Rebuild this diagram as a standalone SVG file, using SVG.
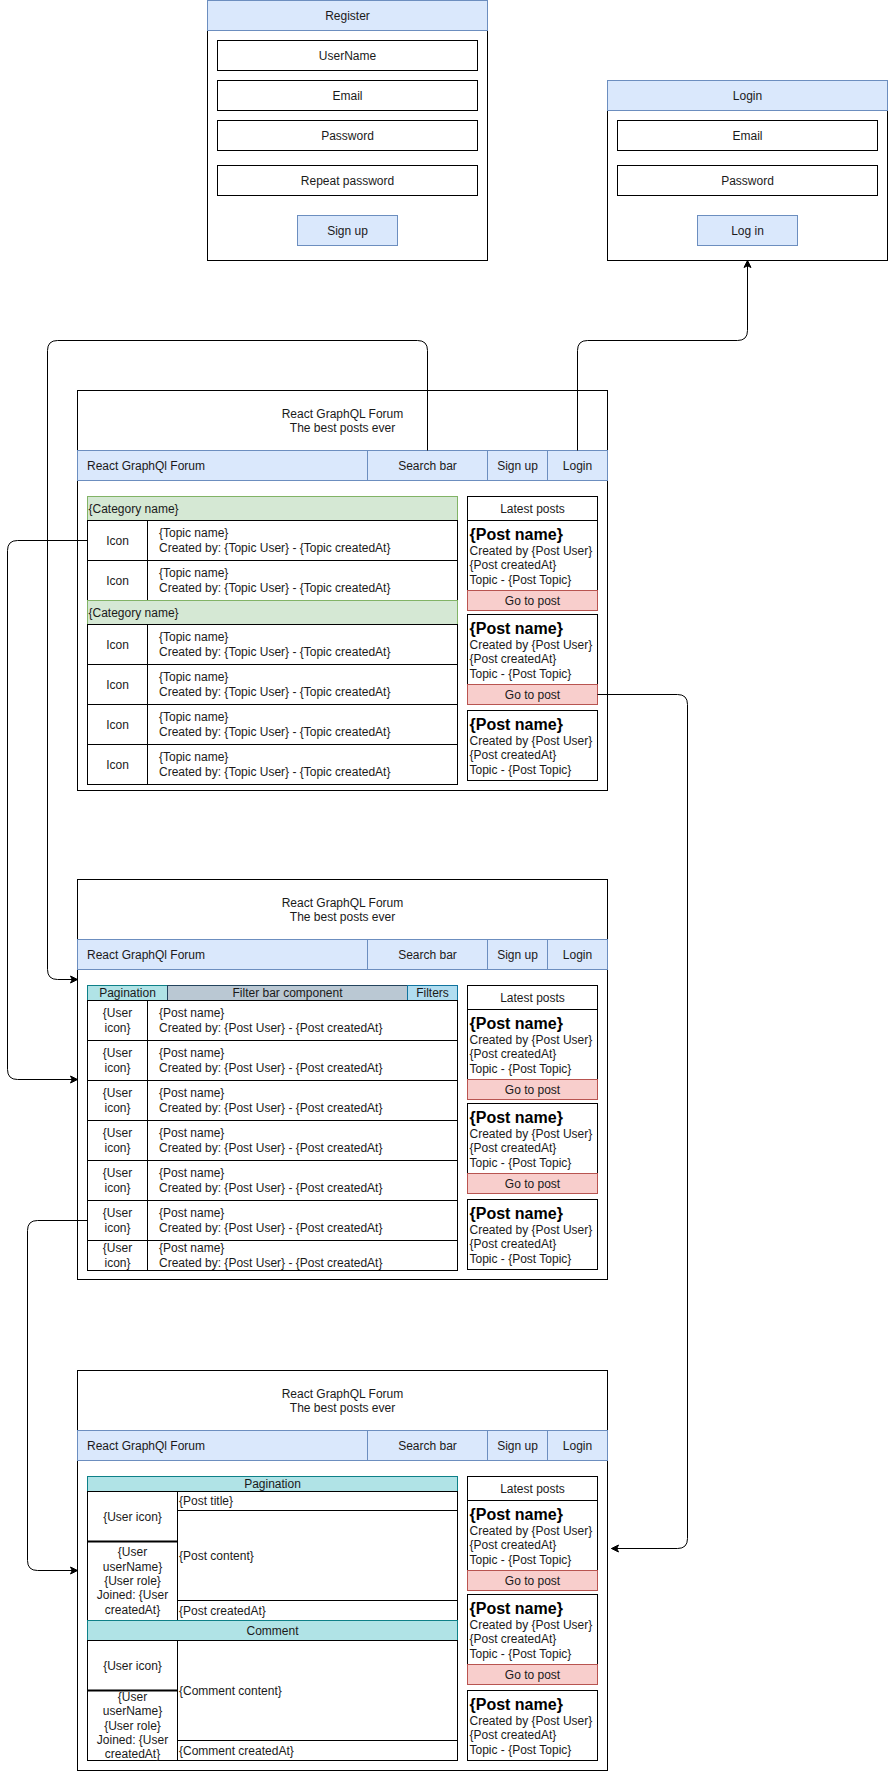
<svg xmlns="http://www.w3.org/2000/svg" width="888" height="1771" viewBox="0 0 888 1771">
<defs>
<style>
rect{stroke-width:1}
.box{fill:#fff;stroke:#000}
.blue{fill:#dae8fc;stroke:#6c8ebf}
.green{fill:#d5e8d4;stroke:#82b366}
.red{fill:#f8cecc;stroke:#b85450}
.teal{fill:#b0e3e6;stroke:#0e8088}
.gray{fill:#bac8d3;stroke:#23445d}
.lblue{fill:#b1ddf0;stroke:#10739e}
text{font-family:"Liberation Sans",Arial,Helvetica,sans-serif;font-size:12px;fill:#1a1a1a}
.c{text-anchor:middle}
.b{font-weight:bold;font-size:16px;fill:#000}
.edge{fill:none;stroke:#000;stroke-width:1}
.thick{stroke:#000;stroke-width:2}
</style>
<marker id="arr" viewBox="-1 -1 9 9" refX="7" refY="3.5" markerWidth="9" markerHeight="9" orient="auto" markerUnits="userSpaceOnUse">
<path d="M0,0 L7,3.5 L0,7 L1.75,3.5 Z" fill="#000" stroke="#000" stroke-width="1"/>
</marker>
</defs>
<rect x="0" y="0" width="888" height="1771" fill="#fff"/>
<g transform="translate(0.5,0.5)">

<g id="register">
<rect class="box" x="207" y="0" width="280" height="260"/>
<rect class="blue" x="207" y="0" width="280" height="30"/>
<text class="c" x="347" y="19">Register</text>
<rect class="box" x="217" y="40" width="260" height="30"/>
<text class="c" x="347" y="59">UserName</text>
<rect class="box" x="217" y="80" width="260" height="30"/>
<text class="c" x="347" y="99">Email</text>
<rect class="box" x="217" y="120" width="260" height="30"/>
<text class="c" x="347" y="139">Password</text>
<rect class="box" x="217" y="165" width="260" height="30"/>
<text class="c" x="347" y="184">Repeat password</text>
<rect class="blue" x="297" y="215" width="100" height="30"/>
<text class="c" x="347" y="234">Sign up</text>
</g>

<g id="login">
<rect class="box" x="607" y="80" width="280" height="180"/>
<rect class="blue" x="607" y="80" width="280" height="30"/>
<text class="c" x="747" y="99">Login</text>
<rect class="box" x="617" y="120" width="260" height="30"/>
<text class="c" x="747" y="139">Email</text>
<rect class="box" x="617" y="165" width="260" height="30"/>
<text class="c" x="747" y="184">Password</text>
<rect class="blue" x="697" y="215" width="100" height="30"/>
<text class="c" x="747" y="234">Log in</text>
</g>

<!-- PAGE 1 -->
<g id="page-home">
<rect class="box" x="77" y="390" width="530" height="400"/>
<text class="c" x="342" y="417">React GraphQL Forum</text>
<text class="c" x="342" y="431.5">The best posts ever</text>
<rect class="blue" x="77" y="450" width="290" height="30"/>
<rect class="blue" x="367" y="450" width="120" height="30"/>
<rect class="blue" x="487" y="450" width="60" height="30"/>
<rect class="blue" x="547" y="450" width="60" height="30"/>
<text x="86.5" y="469">React GraphQl Forum</text>
<text class="c" x="427" y="469">Search bar</text>
<text class="c" x="517" y="469">Sign up</text>
<text class="c" x="577" y="469">Login</text>

<rect class="green" x="87" y="496" width="370" height="24"/>
<text x="88" y="512">{Category name}</text>
<rect class="box" x="87" y="520" width="60" height="40"/><rect class="box" x="147" y="520" width="310" height="40"/>
<text class="c" x="117" y="544">Icon</text><text x="158.5" y="536.8">{Topic name}</text><text x="158.5" y="551.2">Created by: {Topic User} - {Topic createdAt}</text>
<rect class="box" x="87" y="560" width="60" height="40"/><rect class="box" x="147" y="560" width="310" height="40"/>
<text class="c" x="117" y="584">Icon</text><text x="158.5" y="576.8">{Topic name}</text><text x="158.5" y="591.2">Created by: {Topic User} - {Topic createdAt}</text>
<rect class="green" x="87" y="600" width="370" height="24"/>
<text x="88" y="616">{Category name}</text>
<rect class="box" x="87" y="624" width="60" height="40"/><rect class="box" x="147" y="624" width="310" height="40"/>
<text class="c" x="117" y="648">Icon</text><text x="158.5" y="640.8">{Topic name}</text><text x="158.5" y="655.2">Created by: {Topic User} - {Topic createdAt}</text>
<rect class="box" x="87" y="664" width="60" height="40"/><rect class="box" x="147" y="664" width="310" height="40"/>
<text class="c" x="117" y="688">Icon</text><text x="158.5" y="680.8">{Topic name}</text><text x="158.5" y="695.2">Created by: {Topic User} - {Topic createdAt}</text>
<rect class="box" x="87" y="704" width="60" height="40"/><rect class="box" x="147" y="704" width="310" height="40"/>
<text class="c" x="117" y="728">Icon</text><text x="158.5" y="720.8">{Topic name}</text><text x="158.5" y="735.2">Created by: {Topic User} - {Topic createdAt}</text>
<rect class="box" x="87" y="744" width="60" height="40"/><rect class="box" x="147" y="744" width="310" height="40"/>
<text class="c" x="117" y="768">Icon</text><text x="158.5" y="760.8">{Topic name}</text><text x="158.5" y="775.2">Created by: {Topic User} - {Topic createdAt}</text>

<rect class="box" x="467" y="496" width="130" height="24"/>
<text class="c" x="532" y="512">Latest posts</text>
<rect class="box" x="467" y="520" width="130" height="70"/>
<text class="b" x="469" y="539">{Post name}</text><text x="469" y="554.3">Created by {Post User}</text><text x="469" y="568.7">{Post createdAt}</text><text x="469" y="583.1">Topic - {Post Topic}</text>
<rect class="red" x="467" y="590" width="130" height="20"/>
<text class="c" x="532" y="604">Go to post</text>
<rect class="box" x="467" y="614" width="130" height="70"/>
<text class="b" x="469" y="633">{Post name}</text><text x="469" y="648.3">Created by {Post User}</text><text x="469" y="662.7">{Post createdAt}</text><text x="469" y="677.1">Topic - {Post Topic}</text>
<rect class="red" x="467" y="684" width="130" height="20"/>
<text class="c" x="532" y="698">Go to post</text>
<rect class="box" x="467" y="710" width="130" height="70"/>
<text class="b" x="469" y="729">{Post name}</text><text x="469" y="744.3">Created by {Post User}</text><text x="469" y="758.7">{Post createdAt}</text><text x="469" y="773.1">Topic - {Post Topic}</text>
</g>

<!-- PAGE 2 -->
<g id="page-topic">
<rect class="box" x="77" y="879" width="530" height="400"/>
<text class="c" x="342" y="906">React GraphQL Forum</text>
<text class="c" x="342" y="920.5">The best posts ever</text>
<rect class="blue" x="77" y="939" width="290" height="30"/>
<rect class="blue" x="367" y="939" width="120" height="30"/>
<rect class="blue" x="487" y="939" width="60" height="30"/>
<rect class="blue" x="547" y="939" width="60" height="30"/>
<text x="86.5" y="958">React GraphQl Forum</text>
<text class="c" x="427" y="958">Search bar</text>
<text class="c" x="517" y="958">Sign up</text>
<text class="c" x="577" y="958">Login</text>

<rect class="teal" x="87" y="985" width="80" height="15"/>
<rect class="gray" x="167" y="985" width="240" height="15"/>
<rect class="lblue" x="407" y="985" width="50" height="15"/>
<text class="c" x="127" y="996.5">Pagination</text>
<text class="c" x="287" y="996.5">Filter bar component</text>
<text class="c" x="432" y="996.5">Filters</text>

<rect class="box" x="87" y="1000" width="60" height="40"/><rect class="box" x="147" y="1000" width="310" height="40"/>
<text class="c" x="117" y="1016.8">{User</text><text class="c" x="117" y="1031.2">icon}</text><text x="158.5" y="1016.8">{Post name}</text><text x="158.5" y="1031.2">Created by: {Post User} - {Post createdAt}</text>
<rect class="box" x="87" y="1040" width="60" height="40"/><rect class="box" x="147" y="1040" width="310" height="40"/>
<text class="c" x="117" y="1056.8">{User</text><text class="c" x="117" y="1071.2">icon}</text><text x="158.5" y="1056.8">{Post name}</text><text x="158.5" y="1071.2">Created by: {Post User} - {Post createdAt}</text>
<rect class="box" x="87" y="1080" width="60" height="40"/><rect class="box" x="147" y="1080" width="310" height="40"/>
<text class="c" x="117" y="1096.8">{User</text><text class="c" x="117" y="1111.2">icon}</text><text x="158.5" y="1096.8">{Post name}</text><text x="158.5" y="1111.2">Created by: {Post User} - {Post createdAt}</text>
<rect class="box" x="87" y="1120" width="60" height="40"/><rect class="box" x="147" y="1120" width="310" height="40"/>
<text class="c" x="117" y="1136.8">{User</text><text class="c" x="117" y="1151.2">icon}</text><text x="158.5" y="1136.8">{Post name}</text><text x="158.5" y="1151.2">Created by: {Post User} - {Post createdAt}</text>
<rect class="box" x="87" y="1160" width="60" height="40"/><rect class="box" x="147" y="1160" width="310" height="40"/>
<text class="c" x="117" y="1176.8">{User</text><text class="c" x="117" y="1191.2">icon}</text><text x="158.5" y="1176.8">{Post name}</text><text x="158.5" y="1191.2">Created by: {Post User} - {Post createdAt}</text>
<rect class="box" x="87" y="1200" width="60" height="40"/><rect class="box" x="147" y="1200" width="310" height="40"/>
<text class="c" x="117" y="1216.8">{User</text><text class="c" x="117" y="1231.2">icon}</text><text x="158.5" y="1216.8">{Post name}</text><text x="158.5" y="1231.2">Created by: {Post User} - {Post createdAt}</text>
<rect class="box" x="87" y="1240" width="60" height="30"/><rect class="box" x="147" y="1240" width="310" height="30"/>
<text class="c" x="117" y="1251.8">{User</text><text class="c" x="117" y="1266.2">icon}</text><text x="158.5" y="1251.8">{Post name}</text><text x="158.5" y="1266.2">Created by: {Post User} - {Post createdAt}</text>

<rect class="box" x="467" y="985" width="130" height="24"/>
<text class="c" x="532" y="1001">Latest posts</text>
<rect class="box" x="467" y="1009" width="130" height="70"/>
<text class="b" x="469" y="1028">{Post name}</text><text x="469" y="1043.3">Created by {Post User}</text><text x="469" y="1057.7">{Post createdAt}</text><text x="469" y="1072.1">Topic - {Post Topic}</text>
<rect class="red" x="467" y="1079" width="130" height="20"/>
<text class="c" x="532" y="1093">Go to post</text>
<rect class="box" x="467" y="1103" width="130" height="70"/>
<text class="b" x="469" y="1122">{Post name}</text><text x="469" y="1137.3">Created by {Post User}</text><text x="469" y="1151.7">{Post createdAt}</text><text x="469" y="1166.1">Topic - {Post Topic}</text>
<rect class="red" x="467" y="1173" width="130" height="20"/>
<text class="c" x="532" y="1187">Go to post</text>
<rect class="box" x="467" y="1199" width="130" height="70"/>
<text class="b" x="469" y="1218">{Post name}</text><text x="469" y="1233.3">Created by {Post User}</text><text x="469" y="1247.7">{Post createdAt}</text><text x="469" y="1262.1">Topic - {Post Topic}</text>
</g>

<!-- PAGE 3 -->
<g id="page-post">
<rect class="box" x="77" y="1370" width="530" height="400"/>
<text class="c" x="342" y="1397">React GraphQL Forum</text>
<text class="c" x="342" y="1411.5">The best posts ever</text>
<rect class="blue" x="77" y="1430" width="290" height="30"/>
<rect class="blue" x="367" y="1430" width="120" height="30"/>
<rect class="blue" x="487" y="1430" width="60" height="30"/>
<rect class="blue" x="547" y="1430" width="60" height="30"/>
<text x="86.5" y="1449">React GraphQl Forum</text>
<text class="c" x="427" y="1449">Search bar</text>
<text class="c" x="517" y="1449">Sign up</text>
<text class="c" x="577" y="1449">Login</text>

<rect class="teal" x="87" y="1476" width="370" height="15"/>
<text class="c" x="272" y="1487.5">Pagination</text>
<rect class="box" x="87" y="1491" width="90" height="50"/>
<text class="c" x="132" y="1520">{User icon}</text>
<rect class="box" x="87" y="1541" width="90" height="79"/>
<text class="c" x="132" y="1555.7">{User</text>
<text class="c" x="132" y="1570.1">userName}</text>
<text class="c" x="132" y="1584.5">{User role}</text>
<text class="c" x="132" y="1598.9">Joined: {User</text>
<text class="c" x="132" y="1613.3">createdAt}</text>
<line class="thick" x1="87" y1="1541" x2="177" y2="1541"/>
<rect class="box" x="177" y="1491" width="280" height="19"/>
<text x="178.5" y="1504.5">{Post title}</text>
<rect class="box" x="177" y="1510" width="280" height="90"/>
<text x="178.5" y="1559">{Post content}</text>
<rect class="box" x="177" y="1600" width="280" height="20"/>
<text x="178.5" y="1614">{Post createdAt}</text>
<rect class="teal" x="87" y="1620" width="370" height="20"/>
<text class="c" x="272" y="1634">Comment</text>
<rect class="box" x="87" y="1640" width="90" height="50"/>
<text class="c" x="132" y="1669">{User icon}</text>
<rect class="box" x="87" y="1690" width="90" height="70"/>
<text class="c" x="132" y="1700.2">{User</text>
<text class="c" x="132" y="1714.6">userName}</text>
<text class="c" x="132" y="1729">{User role}</text>
<text class="c" x="132" y="1743.4">Joined: {User</text>
<text class="c" x="132" y="1757.8">createdAt}</text>
<line class="thick" x1="87" y1="1690" x2="177" y2="1690"/>
<rect class="box" x="177" y="1640" width="280" height="100"/>
<text x="178.5" y="1694">{Comment content}</text>
<rect class="box" x="177" y="1740" width="280" height="20"/>
<text x="178.5" y="1754">{Comment createdAt}</text>

<rect class="box" x="467" y="1476" width="130" height="24"/>
<text class="c" x="532" y="1492">Latest posts</text>
<rect class="box" x="467" y="1500" width="130" height="70"/>
<text class="b" x="469" y="1519">{Post name}</text><text x="469" y="1534.3">Created by {Post User}</text><text x="469" y="1548.7">{Post createdAt}</text><text x="469" y="1563.1">Topic - {Post Topic}</text>
<rect class="red" x="467" y="1570" width="130" height="20"/>
<text class="c" x="532" y="1584">Go to post</text>
<rect class="box" x="467" y="1594" width="130" height="70"/>
<text class="b" x="469" y="1613">{Post name}</text><text x="469" y="1628.3">Created by {Post User}</text><text x="469" y="1642.7">{Post createdAt}</text><text x="469" y="1657.1">Topic - {Post Topic}</text>
<rect class="red" x="467" y="1664" width="130" height="20"/>
<text class="c" x="532" y="1678">Go to post</text>
<rect class="box" x="467" y="1690" width="130" height="70"/>
<text class="b" x="469" y="1709">{Post name}</text><text x="469" y="1724.3">Created by {Post User}</text><text x="469" y="1738.7">{Post createdAt}</text><text x="469" y="1753.1">Topic - {Post Topic}</text>
</g>

<g id="connectors">
<path class="edge" marker-end="url(#arr)" d="M427,450 V350 Q427,340 417,340 H57 Q47,340 47,350 V969 Q47,979 57,979 H77"/>
<path class="edge" marker-end="url(#arr)" d="M577,450 V350 Q577,340 587,340 H737 Q747,340 747,330 V260"/>
<path class="edge" marker-end="url(#arr)" d="M87,540 H17 Q7,540 7,550 V1069 Q7,1079 17,1079 H77"/>
<path class="edge" marker-end="url(#arr)" d="M87,1220 H37 Q27,1220 27,1230 V1560 Q27,1570 37,1570 H77"/>
<path class="edge" marker-end="url(#arr)" d="M597,694 H677 Q687,694 687,704 V1538 Q687,1548 677,1548 H611"/>
</g>
</g>
</svg>
